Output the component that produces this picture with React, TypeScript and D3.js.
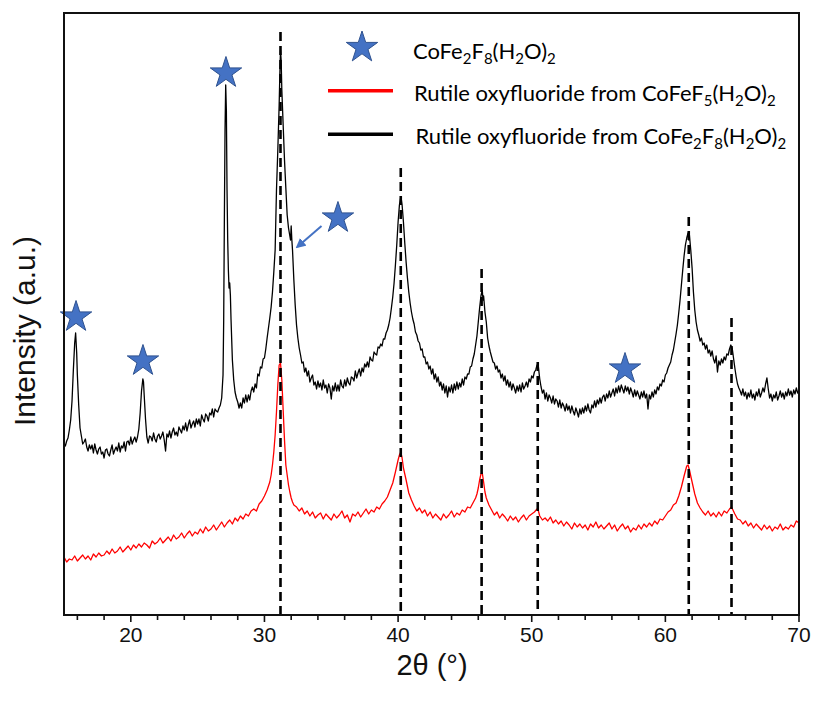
import React from 'react';
import * as d3 from 'd3';

// ---- data (2θ in degrees, intensity in arbitrary units) ----
const blackSeries: [number, number][] = [
  [15.0,172],[15.1,169],[15.2,174],[15.3,177],[15.4,185],[15.5,195],[15.6,214],[15.7,245],[15.8,272],[15.87,282],[15.95,262],[16.0,240],[16.1,210],[16.2,187],
  [16.3,179],[16.4,171],[16.5,173],[16.6,176],[16.7,168],[16.8,164],[16.9,170],[17.0,166],[17.1,170],[17.2,162],[17.3,171],[17.4,165],[17.5,161],[17.6,166],[17.7,168],[17.8,161],
  [17.9,163],[18.0,157],[18.1,165],[18.2,166],[18.3,161],[18.4,159],[18.5,165],[18.6,170],[18.7,161],[18.8,165],[18.9,168],[19.0,164],[19.1,172],[19.2,163],[19.3,169],[19.4,167],
  [19.5,173],[19.6,164],[19.7,173],[19.8,174],[19.9,170],[20.0,178],[20.1,171],[20.2,175],[20.3,178],[20.4,173],[20.5,178],[20.6,186],[20.7,202],[20.8,224],[20.9,236],[20.95,233],
  [21.0,220],[21.1,196],[21.2,178],[21.3,172],[21.4,179],[21.5,178],[21.6,174],[21.7,182],[21.8,176],[21.9,173],[22.0,179],[22.1,181],[22.2,176],[22.3,179],[22.4,183],[22.5,175],
  [22.6,164],[22.7,181],[22.8,178],[22.9,184],[23.0,177],[23.1,183],[23.2,187],[23.3,180],[23.4,183],[23.5,179],[23.6,188],[23.7,185],[23.8,182],[23.9,189],[24.0,185],[24.1,192],
  [24.2,184],[24.3,190],[24.4,195],[24.5,187],[24.6,191],[24.7,194],[24.8,188],[24.9,196],[25.0,191],[25.1,196],[25.2,189],[25.3,200],[25.4,196],[25.5,193],[25.6,201],[25.7,199],
  [25.8,194],[25.9,202],[26.0,200],[26.1,206],[26.2,198],[26.3,206],[26.4,204],[26.5,203],[26.6,207],[26.7,210],[26.8,217],[26.9,240],
  [26.95,295],[27.0,395],[27.05,485],[27.1,530],[27.15,505],[27.2,425],[27.25,375],[27.3,345],[27.35,327],[27.4,332],[27.45,320],[27.5,295],[27.6,255],[27.7,235],[27.8,223],[27.9,217],
  [28.0,213],[28.1,207],[28.2,212],[28.3,207],[28.4,217],[28.5,212],[28.6,220],[28.7,213],[28.8,220],[28.9,215],[29.0,224],[29.1,228],[29.2,223],[29.3,231],[29.4,227],[29.5,241],
  [29.6,239],[29.7,248],[29.8,247],[29.9,256],[30.0,257],[30.1,266],[30.2,277],[30.3,287],[30.4,297],[30.5,308],[30.6,323],[30.7,343],[30.8,365],[30.9,425],[31.0,465],[31.1,510],
  [31.15,540],[31.2,565],[31.25,555],[31.3,525],[31.4,490],[31.5,455],[31.6,427],[31.7,400],[31.8,387],[31.9,379],[31.95,375],[32.0,389],[32.05,375],[32.1,365],[32.2,335],[32.3,310],
  [32.4,290],[32.5,277],[32.6,267],[32.7,260],[32.8,252],[32.9,253],[33.0,243],[33.1,247],[33.2,239],[33.3,244],[33.4,233],[33.5,237],[33.6,240],[33.7,230],[33.8,233],[33.9,226],
  [34.0,234],[34.1,228],[34.2,232],[34.3,225],[34.4,235],[34.5,227],[34.6,230],[34.7,222],[34.8,231],[34.9,227],[35.0,216],[35.1,229],[35.2,224],[35.3,232],[35.4,224],[35.5,230],
  [35.6,224],[35.7,235],[35.8,229],[35.9,227],[36.0,235],[36.1,229],[36.2,237],[36.3,232],[36.4,230],[36.5,238],[36.6,237],[36.7,234],[36.8,244],[36.9,237],[37.0,242],[37.1,246],
  [37.2,239],[37.3,247],[37.4,243],[37.5,251],[37.6,248],[37.7,253],[37.8,248],[37.9,258],[38.0,255],[38.1,254],[38.2,263],[38.3,261],[38.4,260],[38.5,268],[38.6,267],[38.7,271],
  [38.8,269],[38.9,276],[39.0,276],[39.1,282],[39.2,285],[39.3,290],[39.4,297],[39.5,307],[39.6,318],[39.7,332],[39.8,350],[39.9,370],[40.0,393],[40.1,410],[40.2,418],[40.25,415],
  [40.3,410],[40.4,393],[40.5,372],[40.6,353],[40.7,337],[40.8,323],[40.9,312],[41.0,303],[41.1,296],[41.2,291],[41.3,283],[41.4,280],[41.5,274],[41.6,272],[41.7,265],[41.8,266],
  [41.9,258],[42.0,258],[42.1,251],[42.2,253],[42.3,246],[42.4,249],[42.5,241],[42.6,246],[42.7,236],[42.8,241],[42.9,233],[43.0,238],[43.1,229],[43.2,233],[43.3,225],[43.4,231],
  [43.5,222],[43.6,229],[43.7,218],[43.8,228],[43.9,223],[44.0,230],[44.1,222],[44.2,231],[44.3,225],[44.4,233],[44.5,226],[44.6,232],[44.7,228],[44.8,236],[44.9,230],[45.0,238],
  [45.1,236],[45.2,241],[45.3,241],[45.4,248],[45.5,249],[45.6,256],[45.7,261],[45.8,270],[45.9,279],[46.0,293],[46.1,307],[46.2,319],[46.3,325],[46.35,315],[46.4,319],[46.5,303],
  [46.6,293],[46.7,277],[46.8,269],[46.9,263],[47.0,258],[47.1,253],[47.2,252],[47.3,246],[47.4,249],[47.5,243],[47.6,245],[47.7,237],[47.8,241],[47.9,234],[48.0,239],[48.1,230],
  [48.2,235],[48.3,228],[48.4,233],[48.5,225],[48.6,231],[48.7,227],[48.8,222],[48.9,229],[49.0,224],[49.1,230],[49.2,223],[49.3,232],[49.4,226],[49.5,229],[49.6,233],[49.7,228],
  [49.8,236],[49.9,233],[50.0,239],[50.1,237],[50.2,243],[50.3,245],[50.4,250],[50.5,248],[50.6,236],[50.7,228],[50.8,222],[50.9,225],[51.0,216],[51.1,222],[51.2,214],[51.3,220],
  [51.4,217],[51.5,212],[51.6,219],[51.7,211],[51.8,216],[51.9,214],[52.0,208],[52.1,215],[52.2,207],[52.3,212],[52.4,209],[52.5,204],[52.6,211],[52.7,205],[52.8,209],[52.9,202],
  [53.0,209],[53.1,204],[53.2,200],[53.3,207],[53.4,203],[53.5,198],[53.6,206],[53.7,201],[53.8,207],[53.9,202],[54.0,209],[54.1,204],[54.2,211],[54.3,205],[54.4,202],[54.5,210],
  [54.6,207],[54.7,214],[54.8,208],[54.9,215],[55.0,211],[55.1,217],[55.2,212],[55.3,218],[55.4,220],[55.5,214],[55.6,221],[55.7,217],[55.8,224],[55.9,218],[56.0,222],[56.1,226],
  [56.2,219],[56.3,227],[56.4,222],[56.5,229],[56.6,223],[56.7,230],[56.8,226],[56.9,222],[57.0,229],[57.1,224],[57.2,228],[57.3,221],[57.4,227],[57.5,223],[57.6,218],[57.7,225],
  [57.8,219],[57.9,224],[58.0,220],[58.1,216],[58.2,223],[58.3,218],[58.4,224],[58.5,217],[58.6,221],[58.7,206],[58.8,220],[58.9,216],[59.0,223],[59.1,218],[59.2,225],[59.3,221],
  [59.4,228],[59.5,225],[59.6,231],[59.7,229],[59.8,235],[59.9,233],[60.0,240],[60.1,242],[60.2,247],[60.3,250],[60.4,253],[60.5,260],[60.6,265],[60.7,273],[60.8,281],[60.9,290],
  [61.0,302],[61.1,315],[61.2,330],[61.3,345],[61.4,359],[61.5,370],[61.6,377],[61.7,382],[61.75,375],[61.8,380],[61.9,365],[62.0,347],[62.1,323],[62.2,305],[62.3,293],[62.4,285],
  [62.5,280],[62.6,274],[62.7,277],[62.8,270],[62.9,272],[63.0,266],[63.1,270],[63.2,262],[63.3,265],[63.4,259],[63.5,264],[63.6,256],[63.7,252],[63.8,259],[63.9,243],[64.0,254],
  [64.1,250],[64.2,256],[64.3,252],[64.4,258],[64.5,255],[64.6,261],[64.7,260],[64.8,266],[64.9,270],[64.95,268],[65.0,267],[65.1,257],[65.2,247],[65.3,238],[65.4,231],[65.5,227],
  [65.6,224],[65.7,220],[65.8,226],[65.9,219],[66.0,223],[66.1,216],[66.2,222],[66.3,218],[66.4,225],[66.5,217],[66.6,221],[66.7,215],[66.8,223],[66.9,219],[67.0,226],[67.1,218],
  [67.2,222],[67.3,227],[67.4,223],[67.5,231],[67.6,237],[67.7,226],[67.8,217],[67.9,221],[68.0,214],[68.1,220],[68.2,217],[68.3,223],[68.4,215],[68.5,219],[68.6,224],[68.7,218],
  [68.8,222],[68.9,216],[69.0,223],[69.1,219],[69.2,226],[69.3,220],[69.4,224],[69.5,218],[69.6,225],[69.7,221],[69.8,227],[69.9,222],[70.0,225]
];

const redSeries: [number, number][] = [
  [15.0,58],[15.2,53],[15.4,56],[15.6,55],[15.8,59],[16.0,54],[16.2,57],[16.4,60],[16.6,56],[16.8,59],[17.0,55],[17.2,61],[17.4,58],[17.6,62],[17.8,59],[18.0,60],
  [18.2,64],[18.4,61],[18.6,66],[18.8,62],[19.0,64],[19.2,68],[19.4,63],[19.6,66],[19.8,69],[20.0,65],[20.2,70],[20.4,67],[20.6,71],[20.8,68],[21.0,72],[21.2,70],
  [21.4,67],[21.6,74],[21.8,71],[22.0,73],[22.2,77],[22.4,72],[22.6,75],[22.8,78],[23.0,74],[23.2,80],[23.4,76],[23.6,78],[23.8,82],[24.0,77],[24.2,81],[24.4,84],
  [24.6,79],[24.8,83],[25.0,81],[25.2,86],[25.4,82],[25.6,88],[25.8,84],[26.0,86],[26.2,90],[26.4,85],[26.6,89],[26.8,93],[27.0,88],[27.2,92],[27.4,95],[27.6,91],
  [27.8,97],[28.0,94],[28.2,99],[28.4,96],[28.6,101],[28.8,99],[29.0,104],[29.2,106],[29.4,104],[29.6,111],[29.8,114],[30.0,119],[30.2,125],[30.4,133],[30.5,140],[30.6,150],
  [30.7,163],[30.8,180],[30.9,203],[31.0,230],[31.1,250],[31.2,252],[31.3,235],[31.4,205],[31.5,175],[31.6,150],[31.7,140],[31.8,130],[31.9,123],[32.0,117],[32.1,113],[32.2,110],
  [32.4,108],[32.6,104],[32.8,107],[33.0,101],[33.2,104],[33.4,99],[33.6,103],[33.8,97],[34.0,100],[34.2,102],[34.4,96],[34.6,101],[34.8,98],[35.0,95],[35.2,101],[35.4,97],
  [35.6,100],[35.8,104],[36.0,97],[36.2,100],[36.4,93],[36.6,101],[36.8,99],[37.0,103],[37.2,98],[37.4,102],[37.6,106],[37.8,101],[38.0,105],[38.2,103],[38.4,108],[38.6,106],
  [38.8,111],[39.0,114],[39.2,118],[39.4,125],[39.6,132],[39.8,143],[40.0,155],[40.1,160],[40.2,163],[40.3,157],[40.4,147],[40.6,135],[40.8,122],[41.0,115],[41.2,109],[41.4,104],
  [41.6,107],[41.8,102],[42.0,105],[42.2,99],[42.4,103],[42.6,97],[42.8,101],[43.0,98],[43.2,95],[43.4,101],[43.6,97],[43.8,100],[44.0,104],[44.2,98],[44.4,102],[44.6,100],
  [44.8,105],[45.0,103],[45.2,108],[45.4,107],[45.6,112],[45.8,117],[45.9,121],[46.0,127],[46.1,135],[46.2,141],[46.3,142],[46.4,133],[46.5,123],[46.6,117],[46.8,110],[47.0,105],
  [47.2,100],[47.4,103],[47.6,97],[47.8,101],[48.0,98],[48.2,94],[48.4,99],[48.6,95],[48.8,98],[49.0,93],[49.2,97],[49.4,100],[49.6,95],[49.8,99],[50.0,101],[50.2,103],
  [50.4,106],[50.5,104],[50.6,99],[50.8,95],[51.0,97],[51.2,94],[51.4,98],[51.6,92],[51.8,95],[52.0,91],[52.2,94],[52.4,89],[52.6,93],[52.8,90],[53.0,86],[53.2,92],
  [53.4,88],[53.6,91],[53.8,87],[54.0,90],[54.2,85],[54.4,91],[54.6,88],[54.8,93],[55.0,87],[55.2,90],[55.4,86],[55.6,89],[55.8,92],[56.0,86],[56.2,90],[56.4,84],
  [56.6,88],[56.8,91],[57.0,86],[57.2,89],[57.4,83],[57.6,87],[57.8,85],[58.0,90],[58.2,86],[58.4,91],[58.6,88],[58.8,92],[59.0,89],[59.2,94],[59.4,91],[59.6,96],
  [59.8,95],[60.0,99],[60.2,103],[60.4,105],[60.6,110],[60.8,112],[61.0,119],[61.2,128],[61.4,139],[61.6,149],[61.7,150],[61.8,145],[62.0,133],[62.2,121],[62.4,112],[62.6,107],
  [62.8,103],[63.0,100],[63.2,104],[63.4,99],[63.6,102],[63.8,98],[64.0,103],[64.2,99],[64.4,104],[64.6,102],[64.8,106],[64.95,108],[65.2,101],[65.4,96],[65.6,95],[65.8,91],
  [66.0,94],[66.2,89],[66.4,92],[66.6,87],[66.8,91],[67.0,88],[67.2,85],[67.4,90],[67.6,86],[67.8,89],[68.0,84],[68.2,88],[68.4,86],[68.6,91],[68.8,85],[69.0,88],
  [69.2,86],[69.4,90],[69.6,88],[69.8,94],[70.0,92]
];

// reference peak positions (dashed lines): [2θ, top intensity]
const refPeaks: [number, number][] = [[31.2,583],[40.2,447],[46.25,346],[50.45,253],[61.75,398],[64.95,297]];

// star annotations for CoFe2F8(H2O)2: [2θ, intensity]
const starMarks: [number, number][] = [[15.9,298],[20.91,254],[27.12,542],[35.5,397],[56.98,246]];

// arrow pointing from the floating star to the shoulder: [2θ, intensity]
const arrowFrom: [number, number] = [34.27, 389];
const arrowTo: [number, number] = [32.45, 368];

const majorTicks = [20, 30, 40, 50, 60, 70];
const minorTicks = [16, 18, 22, 24, 26, 28, 32, 34, 36, 38, 42, 44, 46, 48, 52, 54, 56, 58, 62, 64, 66, 68];

const xTitle = '2θ (°)';
const yTitle = 'Intensity (a.u.)';

type Part = [string, number];
const legendStar: Part[] = [['CoFe',0],['2',1],['F',0],['8',1],['(H',0],['2',1],['O)',0],['2',1]];
const legendRed: Part[] = [['Rutile oxyfluoride from CoFeF',0],['5',1],['(H',0],['2',1],['O)',0],['2',1]];
const legendBlack: Part[] = [['Rutile oxyfluoride from CoFe',0],['2',1],['F',0],['8',1],['(H',0],['2',1],['O)',0],['2',1]];

const STAR_FILL = '#4472C4';
const STAR_STROKE = '#2F528F';

function Chem({ x, y, parts, size, subSize, shift }: { x: number; y: number; parts: Part[]; size: number; subSize: number; shift: number }) {
  return (
    <text x={x} y={y} fontFamily="Lato, 'Open Sans', sans-serif" fontSize={size} fill="#000">
      {parts.map(([t, s], i) => {
        const prev = i > 0 ? parts[i - 1][1] : 0;
        let dy = 0;
        if (s && !prev) dy = shift;
        else if (!s && prev) dy = -shift;
        return (
          <tspan key={i} fontSize={s ? subSize : size} dy={dy}>{t}</tspan>
        );
      })}
    </text>
  );
}

export default function App() {
  const W = 816, H = 716;
  const x = d3.scaleLinear().domain([15, 70]).range([64, 799]);
  const y = d3.scaleLinear().domain([0, 602]).range([615, 13]);
  const line = d3.line<[number, number]>().x(d => x(d[0])).y(d => y(d[1]));
  const R = 16.5;
  const starPath = d3.symbol().type(d3.symbolStar).size((R * R) / 0.8908130915292852)() as string;

  const axisFont = "'Liberation Sans', Arial, sans-serif";

  return (
    <svg width={W} height={H} style={{ position: 'absolute', left: 0, top: 0 }} xmlns="http://www.w3.org/2000/svg">
      <defs>
        <marker id="arr" viewBox="0 0 10 10" refX="8" refY="5" markerWidth="5" markerHeight="5" orient="auto-start-reverse">
          <path d="M0,0 L10,5 L0,10 z" fill={STAR_FILL} />
        </marker>
      </defs>
      <rect x={0} y={0} width={W} height={H} fill="#fff" />

      {/* traces */}
      <path d={line(redSeries) || ''} fill="none" stroke="#ff0000" strokeWidth={1.3} strokeLinejoin="round" />
      <path d={line(blackSeries) || ''} fill="none" stroke="#000" strokeWidth={1.3} strokeLinejoin="round" />

      {/* reference dashed lines */}
      {refPeaks.map(([t, top], i) => (
        <line key={i} x1={x(t)} x2={x(t)} y1={y(top)} y2={y(0) - 1} stroke="#000" strokeWidth={2.6} strokeDasharray="9,5" />
      ))}

      {/* stars */}
      {starMarks.map(([t, v], i) => (
        <path key={i} d={starPath} transform={`translate(${x(t)},${y(v)})`} fill={STAR_FILL} stroke={STAR_STROKE} strokeWidth={1} />
      ))}

      {/* arrow */}
      <line x1={x(arrowFrom[0])} y1={y(arrowFrom[1])} x2={x(arrowTo[0])} y2={y(arrowTo[1])} stroke={STAR_FILL} strokeWidth={2} markerEnd="url(#arr)" />

      {/* legend */}
      <path d={starPath} transform="translate(362,47.5)" fill={STAR_FILL} stroke={STAR_STROKE} strokeWidth={1} />
      <line x1={328} x2={393} y1={90.7} y2={90.7} stroke="#ff0000" strokeWidth={3.5} />
      <line x1={328} x2={393} y1={134.3} y2={134.3} stroke="#000" strokeWidth={3.5} />
      <Chem x={413} y={59} parts={legendStar} size={22} subSize={15} shift={5} />
      <Chem x={414} y={101} parts={legendRed} size={22} subSize={15} shift={5} />
      <Chem x={415.5} y={144} parts={legendBlack} size={22} subSize={15} shift={5} />

      {/* frame */}
      <rect x={64} y={13} width={735} height={602} fill="none" stroke="#111" strokeWidth={2} />

      {/* ticks */}
      {majorTicks.map(t => (
        <line key={'M' + t} x1={x(t)} x2={x(t)} y1={615} y2={622} stroke="#111" strokeWidth={1.6} />
      ))}
      {minorTicks.map(t => (
        <line key={'m' + t} x1={x(t)} x2={x(t)} y1={615} y2={620} stroke="#111" strokeWidth={1.6} />
      ))}
      {majorTicks.map(t => (
        <text key={'L' + t} x={x(t)} y={642} textAnchor="middle" fontFamily={axisFont} fontSize={21} fill="#111">{t}</text>
      ))}

      {/* axis titles */}
      <text x={432} y={675} textAnchor="middle" fontFamily={axisFont} fontSize={29} fill="#111">{xTitle}</text>
      <text transform="translate(35,331) rotate(-90)" textAnchor="middle" fontFamily={axisFont} fontSize={30} fill="#111">{yTitle}</text>
    </svg>
  );
}
